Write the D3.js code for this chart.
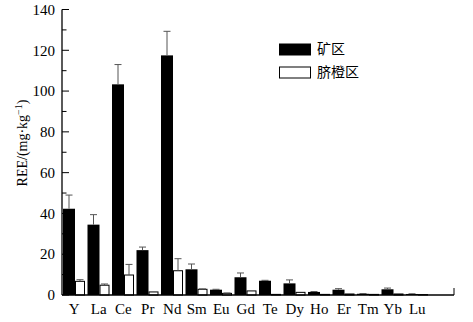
<!DOCTYPE html>
<html>
<head>
<meta charset="utf-8">
<script src="https://cdn.jsdelivr.net/npm/d3@7"></script>
<style>
  body { margin: 0; background: #fff; }
  svg { display: block; font-family: "Liberation Serif", "DejaVu Serif", serif; }
</style>
</head>
<body>
<div id="chart"></div>
<script>
const width = 473;
const height = 322;

const elements = ["Y", "La", "Ce", "Pr", "Nd", "Sm", "Eu", "Gd", "Te", "Dy", "Ho", "Er", "Tm", "Yb", "Lu"];
const mineValues = [42.3, 34.5, 103.3, 22, 117.5, 12.6, 2.6, 8.7, 7.0, 5.7, 1.5, 2.6, 0.6, 2.8, 0.5];
const mineErrors = [6.7, 4.9, 9.7, 1.5, 11.8, 2.6, 0.2, 2.1, 0.2, 1.7, 0.2, 0.5, 0.1, 0.6, 0.1];
const orangeValues = [6.7, 4.8, 9.8, 1.5, 11.9, 2.8, 0.8, 2.0, 0.3, 1.3, 0.3, 0.5, 0.3, 0.5, 0.2];
const orangeErrors = [0.8, 0.6, 5.2, 0, 5.9, 0.2, 0.2, 0, 0, 0, 0, 0, 0, 0, 0];
const yTicks = [0, 20, 40, 60, 80, 100, 120, 140];
const seriesNames = ["矿区", "脐橙区"];

const svg = d3.select("#chart").append("svg")
  .attr("width", width)
  .attr("height", height);

const x0 = 62, x1 = 454;
const step = (x1 - x0) / 16;

const x = d3.scaleBand()
  .domain(elements)
  .range([x0, x0 + step * elements.length])
  .paddingInner(0)
  .paddingOuter(0);

const y = d3.scaleLinear()
  .domain([0, 140])
  .range([295, 9.5]);

// bars
const g = svg.append("g");

const blackW = 12, whiteW = 10;

elements.forEach((el, i) => {
  const bx = x(el) + 1;
  // black bar
  g.append("rect")
    .attr("x", bx)
    .attr("y", y(mineValues[i]))
    .attr("width", blackW)
    .attr("height", y(0) - y(mineValues[i]))
    .attr("fill", "#000");
  // white bar
  g.append("rect")
    .attr("x", bx + blackW + 0.5)
    .attr("y", y(orangeValues[i]))
    .attr("width", whiteW - 1)
    .attr("height", y(0) - y(orangeValues[i]))
    .attr("fill", "#fff")
    .attr("stroke", "#000")
    .attr("stroke-width", 1);

  // error bars
  const errs = [
    [bx + blackW / 2, mineValues[i], mineErrors[i]],
    [bx + blackW + whiteW / 2, orangeValues[i], orangeErrors[i]]
  ];
  errs.forEach(([cx, v, e]) => {
    if (e <= 0) return;
    g.append("line")
      .attr("x1", cx).attr("x2", cx)
      .attr("y1", y(v)).attr("y2", y(v + e))
      .attr("stroke", "#555").attr("stroke-width", 1);
    g.append("line")
      .attr("x1", cx - 3.5).attr("x2", cx + 3.5)
      .attr("y1", y(v + e)).attr("y2", y(v + e))
      .attr("stroke", "#555").attr("stroke-width", 1);
  });
});

// y axis
const yAxis = svg.append("g");
yAxis.append("line")
  .attr("x1", x0).attr("x2", x0)
  .attr("y1", y(140)).attr("y2", y(0))
  .attr("stroke", "#000").attr("stroke-width", 1.3);

d3.range(0, 141, 10).forEach(v => {
  const major = v % 20 === 0;
  yAxis.append("line")
    .attr("x1", x0).attr("x2", x0 + (major ? 7 : 4.5))
    .attr("y1", y(v)).attr("y2", y(v))
    .attr("stroke", "#000").attr("stroke-width", 1);
});

yAxis.selectAll("text.tick")
  .data(yTicks)
  .join("text")
  .attr("class", "tick")
  .attr("x", x0 - 7)
  .attr("y", d => y(d))
  .attr("dy", "0.35em")
  .attr("text-anchor", "end")
  .attr("font-size", "15px")
  .text(d => d);

// x axis
svg.append("line")
  .attr("x1", x0).attr("x2", x1)
  .attr("y1", y(0)).attr("y2", y(0))
  .attr("stroke", "#000").attr("stroke-width", 1.3);
svg.append("line")
  .attr("x1", x1).attr("x2", x1)
  .attr("y1", y(0)).attr("y2", y(0) - 7)
  .attr("stroke", "#000").attr("stroke-width", 1);

svg.selectAll("text.xlab")
  .data(elements)
  .join("text")
  .attr("class", "xlab")
  .attr("x", d => x(d) + x.bandwidth() / 2)
  .attr("y", 314)
  .attr("text-anchor", "middle")
  .attr("font-size", "15px")
  .text(d => d);

// y label
const yl = svg.append("text")
  .attr("transform", "translate(27,143) rotate(-90)")
  .attr("text-anchor", "middle")
  .attr("font-size", "14px");
yl.append("tspan").text("REE/(mg·kg");
yl.append("tspan").attr("dy", -5).attr("font-size", "10px").text("−1");
yl.append("tspan").attr("dy", 5).text(")");

// legend
const legend = svg.append("g");
seriesNames.forEach((name, i) => {
  const ly = 44 + i * 23;
  legend.append("rect")
    .attr("x", 279.5).attr("y", ly)
    .attr("width", 31).attr("height", 11)
    .attr("fill", i === 0 ? "#000" : "#fff")
    .attr("stroke", "#000").attr("stroke-width", 1);
  legend.append("text")
    .attr("x", 317)
    .attr("y", ly + 5.5)
    .attr("dy", "0.35em")
    .attr("font-family", "'Noto Sans CJK SC'")
    .attr("font-size", "14px")
    .text(name);
});
</script>
</body>
</html>
